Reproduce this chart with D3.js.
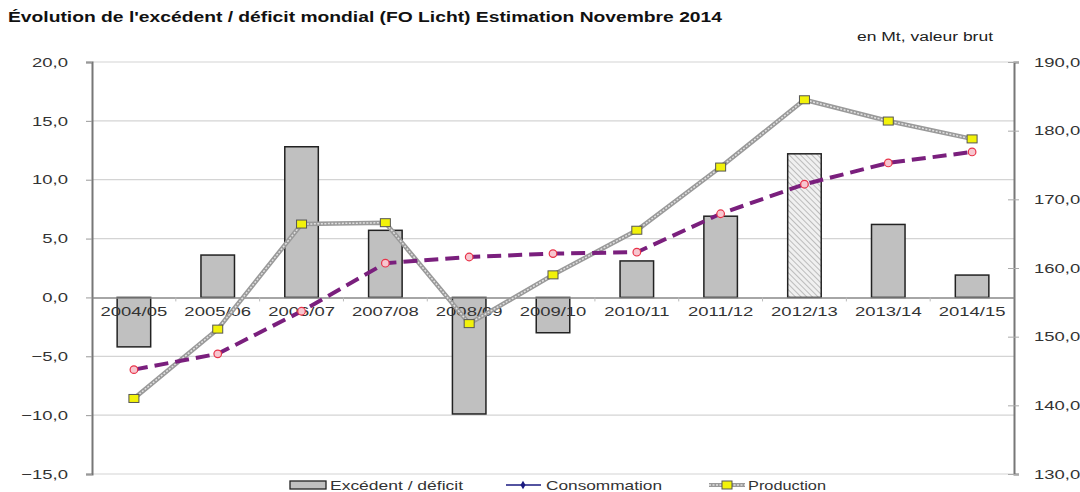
<!DOCTYPE html>
<html>
<head>
<meta charset="utf-8">
<script src="https://cdn.jsdelivr.net/npm/d3@7"></script>
<style>
  body { margin: 0; background: #fff; }
  text { font-family: "Liberation Sans", Arial, sans-serif; }
</style>
</head>
<body>
<div id="chart"></div>
<script>
const categories = ["2004/05", "2005/06", "2006/07", "2007/08", "2008/09", "2009/10", "2010/11", "2011/12", "2012/13", "2013/14", "2014/15"];
const excedent = [-4.2, 3.6, 12.8, 5.7, -9.9, -3.0, 3.1, 6.9, 12.2, 6.2, 1.9];
const consommation = [145.2, 147.5, 153.7, 160.7, 161.6, 162.1, 162.3, 167.9, 172.2, 175.3, 176.9];
const production = [141.0, 151.1, 166.4, 166.6, 151.9, 159.0, 165.5, 174.7, 184.5, 181.4, 178.8];
const leftTicks = [20, 15, 10, 5, 0, -5, -10, -15];
const rightTicks = [190, 180, 170, 160, 150, 140, 130];
const estimated = "2012/13";

const width = 1080, height = 492;
const margin = { top: 62, right: 66, bottom: 18, left: 92 };
const stretch = 1.42; // le texte de l'original est étiré horizontalement

const svg = d3.select("#chart").append("svg")
  .attr("width", width)
  .attr("height", height);

const defs = svg.append("defs");
const hatch = defs.append("pattern")
  .attr("id", "hatch")
  .attr("patternUnits", "userSpaceOnUse")
  .attr("width", 4).attr("height", 4)
  .attr("patternTransform", "rotate(-45)");
hatch.append("rect").attr("width", 4).attr("height", 4).attr("fill", "#f0f0f0");
hatch.append("line").attr("x1", 0).attr("y1", 0).attr("x2", 0).attr("y2", 4)
  .attr("stroke", "#9a9a9a").attr("stroke-width", 1.2);

const x = d3.scaleBand()
  .domain(categories)
  .range([margin.left, width - margin.right])
  .paddingInner(0).paddingOuter(0);

const yL = d3.scaleLinear().domain([-15, 20]).range([height - margin.bottom, margin.top]);
const yR = d3.scaleLinear().domain([130, 190]).range([height - margin.bottom, margin.top]);

const fr = d => d3.format(".1f")(d).replace(".", ",");

// titre
svg.append("text")
  .attr("x", 8).attr("y", 22)
  .attr("font-size", 14).attr("font-weight", "bold").attr("fill", "#111")
  .attr("data-len", 714)
  .text("Évolution de l'excédent / déficit mondial (FO Licht) Estimation Novembre 2014");
svg.append("text")
  .attr("x", 857).attr("y", 41)
  .attr("font-size", 12.5).attr("fill", "#222")
  .attr("data-len", 136)
  .text("en Mt, valeur brut");

// grille
svg.append("g").selectAll("line")
  .data(leftTicks.filter(d => d !== 0))
  .join("line")
  .attr("x1", margin.left).attr("x2", width - margin.right)
  .attr("y1", d => yL(d)).attr("y2", d => yL(d))
  .attr("stroke", "#d4d4d4").attr("stroke-width", 1.2);

// axe gauche
const axL = svg.append("g")
  .attr("transform", `translate(${margin.left},0)`)
  .call(d3.axisLeft(yL).tickValues(leftTicks).tickSize(6).tickPadding(18).tickFormat(fr));
axL.select(".domain").attr("stroke", "#777").attr("stroke-width", 2);
axL.selectAll(".tick line").attr("stroke", "#999");
axL.selectAll(".tick text").attr("font-size", 13).attr("fill", "#333")
  .attr("font-family", "Liberation Sans, Arial, sans-serif");

// axe droit
const axR = svg.append("g")
  .attr("transform", `translate(${width - margin.right},0)`)
  .call(d3.axisRight(yR).tickValues(rightTicks).tickSize(5).tickPadding(15).tickFormat(fr));
axR.select(".domain").attr("stroke", "#777").attr("stroke-width", 2);
axR.selectAll(".tick line").attr("stroke", "#aaa").attr("x1", -6);
axR.selectAll(".tick text").attr("font-size", 13).attr("fill", "#333")
  .attr("font-family", "Liberation Sans, Arial, sans-serif");

// barres
const barW = x.bandwidth() * 0.4;
svg.append("g").selectAll("rect")
  .data(categories.map((c, i) => ({ c, v: excedent[i] })))
  .join("rect")
  .attr("x", d => x(d.c) + (x.bandwidth() - barW) / 2)
  .attr("width", barW)
  .attr("y", d => yL(Math.max(0, d.v)))
  .attr("height", d => Math.abs(yL(d.v) - yL(0)))
  .attr("fill", d => d.c === estimated ? "url(#hatch)" : "#c0c0c0")
  .attr("stroke", "#222").attr("stroke-width", 1.5);

// axe des catégories (ligne zéro)
const axX = svg.append("g")
  .attr("transform", `translate(0,${yL(0)})`)
  .call(d3.axisBottom(x).tickSize(0).tickPadding(9));
axX.select(".domain").attr("stroke", "#888").attr("stroke-width", 1.5);
axX.selectAll(".tick text").attr("font-size", 13).attr("fill", "#333")
  .attr("font-family", "Liberation Sans, Arial, sans-serif");
svg.append("g").selectAll("line")
  .data(categories.slice(1))
  .join("line")
  .attr("x1", d => x(d)).attr("x2", d => x(d))
  .attr("y1", yL(0)).attr("y2", yL(0) + 4)
  .attr("stroke", "#bbb");

const cx = c => x(c) + x.bandwidth() / 2;

// production
const lineP = d3.line().x((d, i) => cx(categories[i])).y(d => yR(d));
svg.append("path").datum(production)
  .attr("d", lineP).attr("fill", "none")
  .attr("stroke", "#9a9a9a").attr("stroke-width", 4.5);
svg.append("path").datum(production)
  .attr("d", lineP).attr("fill", "none")
  .attr("stroke", "#e0e0e0").attr("stroke-width", 1.5)
  .attr("stroke-dasharray", "2,1.5");

// consommation
const lineC = d3.line().x((d, i) => cx(categories[i])).y(d => yR(d));
svg.append("path").datum(consommation)
  .attr("d", lineC).attr("fill", "none")
  .attr("stroke", "#7a1f7d").attr("stroke-width", 4)
  .attr("stroke-dasharray", "14,7");
svg.append("g").selectAll("circle")
  .data(consommation)
  .join("circle")
  .attr("cx", (d, i) => cx(categories[i]))
  .attr("cy", d => yR(d))
  .attr("r", 3.8)
  .attr("fill", "#f7c6cf").attr("stroke", "#e8344a").attr("stroke-width", 1.2);

svg.append("g").selectAll("rect")
  .data(production)
  .join("rect")
  .attr("x", (d, i) => cx(categories[i]) - 5)
  .attr("y", d => yR(d) - 4)
  .attr("width", 10).attr("height", 8)
  .attr("fill", "#f2f20a").attr("stroke", "#555").attr("stroke-width", 1);

// légende
const lg = svg.append("g").attr("transform", "translate(0,485)");
lg.append("rect").attr("x", 290).attr("y", -4).attr("width", 36).attr("height", 8)
  .attr("fill", "#c0c0c0").attr("stroke", "#222").attr("stroke-width", 1.3);
lg.append("text").attr("x", 330).attr("y", 5).attr("font-size", 13).attr("fill", "#333")
  .attr("data-len", 133)
  .text("Excédent / déficit");

lg.append("line").attr("x1", 506).attr("x2", 541).attr("y1", 0).attr("y2", 0)
  .attr("stroke", "#1a1a80").attr("stroke-width", 1.5);
lg.append("path").attr("d", d3.symbol(d3.symbolDiamond, 22)())
  .attr("transform", "translate(523,0)").attr("fill", "#1a1a80");
lg.append("text").attr("x", 546).attr("y", 5).attr("font-size", 13).attr("fill", "#333")
  .attr("data-len", 116)
  .text("Consommation");

lg.append("line").attr("x1", 709).attr("x2", 745).attr("y1", 0).attr("y2", 0)
  .attr("stroke", "#9a9a9a").attr("stroke-width", 4);
lg.append("line").attr("x1", 709).attr("x2", 745).attr("y1", 0).attr("y2", 0)
  .attr("stroke", "#e0e0e0").attr("stroke-width", 1.3).attr("stroke-dasharray", "2,1.5");
lg.append("rect").attr("x", 722).attr("y", -4).attr("width", 10).attr("height", 8)
  .attr("fill", "#f2f20a").attr("stroke", "#555");
lg.append("text").attr("x", 748).attr("y", 5).attr("font-size", 13).attr("fill", "#333")
  .attr("data-len", 78)
  .text("Production");

// étirement horizontal des textes
svg.selectAll("text").each(function () {
  const t = d3.select(this);
  const len = t.attr("data-len") ? +t.attr("data-len") : this.getComputedTextLength() * stretch;
  t.attr("textLength", len).attr("lengthAdjust", "spacingAndGlyphs");
});
</script>
</body>
</html>
